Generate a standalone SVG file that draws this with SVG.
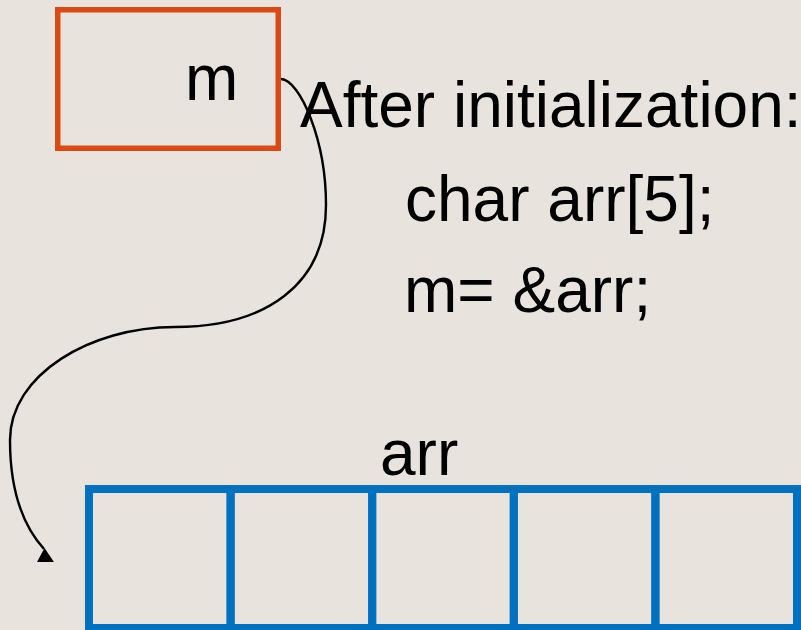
<svg xmlns="http://www.w3.org/2000/svg" width="801" height="630" viewBox="0 0 801 630">
  <style>
    .label { font-family: "Liberation Sans", Arial, sans-serif; font-size: 64px; fill: #000000; }
    .ptr { fill: none; stroke: #D84B16; stroke-width: 5.5; }
    .cell { fill: none; stroke: #0070C0; stroke-width: 8; }
    .link { fill: none; stroke: #000000; stroke-width: 2.4; }
  </style>
  <rect x="0" y="0" width="801" height="630" fill="#E8E4DD"/>

  <!-- pointer variable m -->
  <g id="node-m">
    <rect class="ptr" x="57.75" y="9.75" width="220.5" height="138.5"/>
    <text class="label" x="185" y="100">m</text>
  </g>

  <!-- code caption -->
  <g id="node-caption">
    <text class="label" x="300" y="127">After initialization:</text>
    <text class="label" x="405" y="221">char arr[5];</text>
    <text class="label" x="404" y="312">m= &amp;arr;</text>
  </g>

  <!-- array arr with five cells -->
  <g id="node-arr">
    <text class="label" x="380" y="475">arr</text>
    <rect class="cell" x="89" y="489" width="141.6" height="139"/>
    <rect class="cell" x="230.6" y="489" width="141.6" height="139"/>
    <rect class="cell" x="372.2" y="489" width="141.6" height="139"/>
    <rect class="cell" x="513.8" y="489" width="141.6" height="139"/>
    <rect class="cell" x="655.4" y="489" width="141.6" height="139"/>
  </g>

  <!-- pointer link from m to arr -->
  <g id="connectors">
    <path class="link" d="M281,79 C300,80 326,140 326,205 C326,285 265,327 175,327 C90,327 10,375 10,440 C10,495 25,528 44,549"/>
    <polygon points="44.5,548 37,562 54,562" fill="#000000"/>
  </g>
</svg>
